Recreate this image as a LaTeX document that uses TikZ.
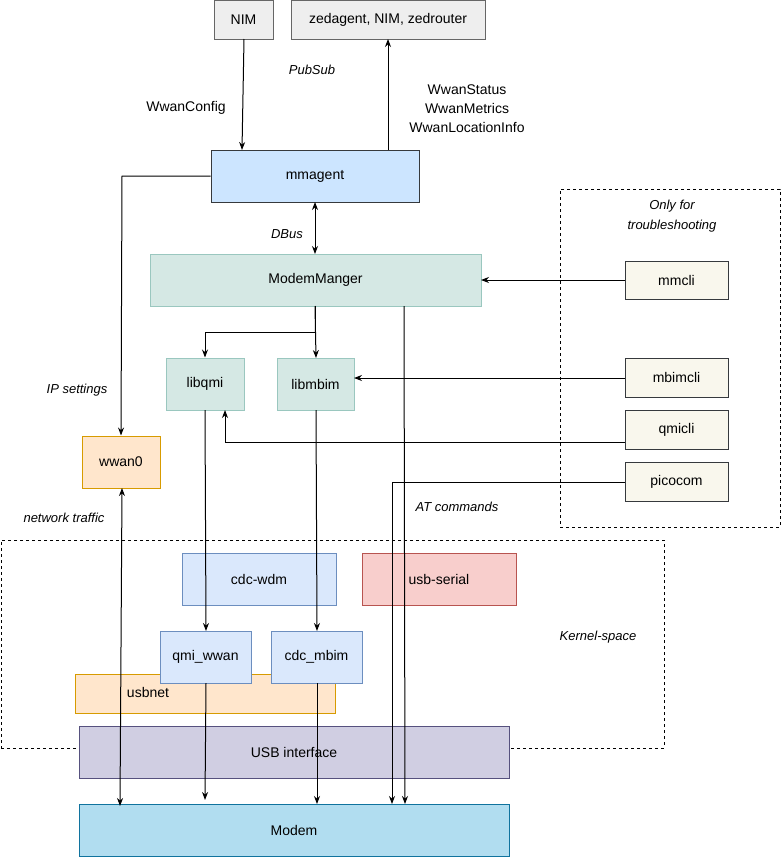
\documentclass[tikz,border=0pt]{standalone}
\usepackage{fontspec}
\setmainfont{Liberation Sans}
\usetikzlibrary{arrows.meta}
\definecolor{gfill}{HTML}{EEEEEE}\definecolor{gline}{HTML}{666666}
\definecolor{bfill}{HTML}{CCE5FF}\definecolor{dline}{HTML}{36393D}
\definecolor{tfill}{HTML}{D5E8E4}\definecolor{tline}{HTML}{9AC7BF}
\definecolor{ofill}{HTML}{FFE6CC}\definecolor{oline}{HTML}{D79B00}
\definecolor{yfill}{HTML}{F9F7ED}
\definecolor{b2fill}{HTML}{DAE8FC}\definecolor{b2line}{HTML}{6C8EBF}
\definecolor{rfill}{HTML}{F8CECC}\definecolor{rline}{HTML}{B85450}
\definecolor{pfill}{HTML}{D0CEE2}\definecolor{pline}{HTML}{56517E}
\definecolor{mfill}{HTML}{B1DDF0}\definecolor{mline}{HTML}{10739E}
\begin{document}
\begin{tikzpicture}[x=1pt,y=-1pt,font=\fontsize{14}{16}\selectfont,
 box/.style={draw,inner sep=0,line width=1pt},
 arr/.style={-{Stealth[length=8pt,width=6pt]},line width=1pt},
 darr/.style={{Stealth[length=8pt,width=6pt]}-{Stealth[length=8pt,width=6pt]},line width=1pt},
 lab/.style={font=\fontsize{13}{15}\selectfont\itshape,align=center}]
\useasboundingbox (0,0) rectangle (782,857);
\newcommand{\bx}[7]{\node[box,fill=#6,draw=#7,minimum width=#4-#2,minimum height=#5-#3] (#1) at ({(#2+#4)/2},{(#3+#5)/2}) {};}
% dashed frames
\node[draw,dashed,minimum width=220pt,minimum height=338pt,line width=1pt] (trouble) at (670,358) {};
\node[draw,dashed,minimum width=663pt,minimum height=208pt,line width=1pt] (kernel) at (332.5,644) {};
\bx{nim}{214}{0}{273}{39}{gfill}{gline}\node at (nim) {NIM};
\bx{zed}{291}{0}{485}{39}{gfill}{gline}\node at (zed) {zedagent, NIM, zedrouter};
\bx{mma}{211}{150}{419}{202}{bfill}{dline}\node at (mma) {mmagent};
\bx{mm}{150}{254}{481}{306}{tfill}{tline}\node at (mm) {ModemManger};
\bx{qmi}{166}{358}{244}{410}{tfill}{tline}\node at (qmi) {libqmi};
\bx{mbim}{277}{358}{354}{410}{tfill}{tline}\node at (mbim) {libmbim};
\bx{wwan}{82}{436}{160}{488}{ofill}{oline}\node at (wwan) {wwan0};
\bx{mmcli}{625}{261}{728}{299}{yfill}{dline}\node at (mmcli) {mmcli};
\bx{mbimcli}{625}{358}{728}{397}{yfill}{dline}\node at (mbimcli) {mbimcli};
\bx{qmicli}{625}{410}{728}{449}{yfill}{dline}\node at (qmicli) {qmicli};
\bx{pico}{625}{462}{728}{501}{yfill}{dline}\node at (pico) {picocom};
\bx{cdcwdm}{182}{553}{336}{605}{b2fill}{b2line}\node at (cdcwdm) {cdc-wdm};
\bx{userial}{362}{553}{516}{605}{rfill}{rline}\node at (userial) {usb-serial};
\bx{usbnet}{75}{674}{335}{713}{ofill}{oline}\node (usbnett) at (148,692) {usbnet};
\bx{qww}{160}{631}{251}{683}{b2fill}{b2line}\node at (qww) {qmi\_wwan};
\bx{cmb}{271}{631}{362}{683}{b2fill}{b2line}\node at (cmb) {cdc\_mbim};
\bx{usbi}{79}{726}{509}{778}{pfill}{pline}\node at (usbi) {USB interface};
\bx{modem}{79}{804}{509}{856}{mfill}{mline}\node at (modem) {Modem};
% labels
\node (l1) at (186,108) {WwanConfig};
\node[lab] (l2) at (312,70) {PubSub};
\node[align=center,font=\fontsize{14}{19}\selectfont] (l3) at (467,109) {WwanStatus\\WwanMetrics\\WwanLocationInfo};
\node[lab] (l4) at (77,390) {IP settings};
\node[lab] (l5) at (287,234) {DBus};
\node[lab] (l6) at (64,518) {network traffic};
\node[lab] (l7) at (457,507) {AT commands};
\node[lab] (l8) at (598,637) {Kernel-space};
\node[lab,font=\fontsize{13}{20}\selectfont\itshape] (l9) at (672,216) {Only for\\troubleshooting};
% connectors
\coordinate (a1) at (244,39);\coordinate (a2) at (242,150);
\draw[arr] (a1) -- (a2);
\draw[arr] (388,150) -- (388,39);
\draw[arr] (mma.west |- 0,176) -- (122,176) -- (wwan.north);
\draw[darr] (315,202) -- (315,254);
\draw[arr] (315,306) -- (315,332) -- (205,332) -- (qmi.north -| 205,0);
\draw[arr] (315,306) -- (316,358);
\draw[arr] (mmcli.west) -- (481,280);
\draw[arr] (mbimcli.west |- 0,378) -- (354,378);
\draw[arr] (qmicli.west |- 0,442) -- (225,442) -- (225,410);
\draw[arr] (pico.west |- 0,482) -- (392,482) -- (392,804);
\draw[arr] (404,306) -- (405,804);
\draw[arr] (205,410) -- (206,631);
\draw[arr] (316,410) -- (317,631);
\draw[arr] (206,683) -- (205,800);
\draw[arr] (317,683) -- (317,804);
\draw[darr] (122,488) -- (120,806);
\end{tikzpicture}
\end{document}
